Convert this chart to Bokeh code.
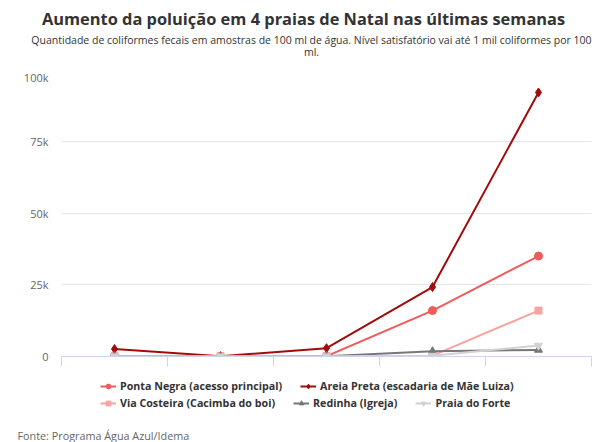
from bokeh.plotting import figure
from bokeh.models import (FixedTicker, Legend, LegendItem, Range1d, Label)
from bokeh.layouts import column
from bokeh.embed import file_html
from bokeh.resources import INLINE

# ---- data ----
weeks = [0, 1, 2, 3, 4]
series_names = [
    "Ponta Negra (acesso principal)",
    "Areia Preta (escadaria de Mãe Luiza)",
    "Via Costeira (Cacimba do boi)",
    "Redinha (Igreja)",
    "Praia do Forte",
]
ponta_negra = [200, 100, 100, 16000, 35000]
areia_preta = [2600, 100, 2900, 24200, 92000]
via_costeira = [100, 100, 100, 300, 16000]
redinha = [100, 100, 100, 1800, 2300]
praia_forte = [100, 100, 100, 300, 3800]
y_ticks = [0, 25000, 50000, 75000, 100000]
y_tick_labels = ["0", "25k", "50k", "75k", "100k"]
x_bounds = [-0.5, 0.5, 1.5, 2.5, 3.5, 4.5]

title_text = "Aumento da poluição em 4 praias de Natal nas últimas semanas"
subtitle_lines = ["Quantidade de coliformes fecais em amostras de 100 ml de água. Nível satisfatório vai até 1 mil coliformes por 100",
                  "ml."]
source_text = "Fonte: Programa Água Azul/Idema"

colors = ["#f05b5b", "#a30a0a", "#f7a3a3", "#777777", "#d2d2d2"]
markers = ["circle", "diamond", "square", "triangle", "inverted_triangle"]
sizes = [8, 9, 7, 8, 8]
values = [ponta_negra, areia_preta, via_costeira, redinha, praia_forte]

FONT = "Open Sans"
W = 606

def blank_fig(h):
    f = figure(width=W, height=h, output_backend="svg", toolbar_location=None,
               title=None, x_range=Range1d(0, 1), y_range=Range1d(0, 1),
               min_border=0, min_border_left=0, min_border_right=0,
               min_border_top=0, min_border_bottom=0,
               x_axis_type=None, y_axis_type=None)
    f.outline_line_color = None
    f.grid.visible = False
    return f

# ---- header ----
top = blank_fig(69)
top.add_layout(Label(x=303, y=51, x_units="screen", y_units="screen", text=title_text,
                     text_font=FONT, text_font_size="16.4px", text_font_style="bold",
                     text_color="#333333", text_align="center", text_baseline="middle"))
for txt, yy in zip(subtitle_lines, [30, 18]):
    top.add_layout(Label(x=311, y=yy, x_units="screen", y_units="screen", text=txt,
                         text_font=FONT, text_font_size="10.5px", text_color="#333333",
                         text_align="center", text_baseline="middle"))

# ---- chart ----
p = figure(width=W, height=299, output_backend="svg", toolbar_location=None, title=None,
           x_range=Range1d(x_bounds[0], x_bounds[-1]),
           y_range=Range1d(y_ticks[0], y_ticks[-1]),
           min_border_left=61, min_border_right=15, min_border_top=0, min_border_bottom=12)
p.outline_line_color = None

p.xaxis.ticker = FixedTicker(ticks=x_bounds)
p.xaxis.major_label_overrides = {t: "" for t in x_bounds}
p.xaxis.major_label_standoff = 0
p.xaxis.axis_line_color = "#ccd6eb"
p.xaxis.major_tick_line_color = "#ccd6eb"
p.xaxis.major_tick_in = 0
p.xaxis.major_tick_out = 10
p.xaxis.minor_tick_line_color = None
p.xgrid.grid_line_color = None

p.yaxis.ticker = FixedTicker(ticks=y_ticks)
p.yaxis.major_label_overrides = {t: l for t, l in zip(y_ticks, y_tick_labels)}
p.yaxis.axis_line_color = None
p.yaxis.major_tick_line_color = None
p.yaxis.major_tick_out = 0
p.yaxis.major_tick_in = 0
p.yaxis.minor_tick_line_color = None
p.yaxis.major_label_text_font = FONT
p.yaxis.major_label_text_font_size = "11px"
p.yaxis.major_label_text_color = "#666666"
p.yaxis.major_label_standoff = 13
p.ygrid.grid_line_color = "#e6e6e6"
p.ygrid.ticker = FixedTicker(ticks=y_ticks[1:])

for vals, c, m, s in zip(values, colors, markers, sizes):
    p.line(weeks, vals, line_color=c, line_width=2)
    p.scatter(weeks, vals, marker=m, size=s, fill_color=c, line_color=c)

# ---- legend + source ----
bot = blank_fig(74)
items = []
nan = float("nan")
for name, c, m, s in zip(series_names, colors, markers, sizes):
    ln = bot.line([nan], [nan], line_color=c, line_width=2)
    sc = bot.scatter([nan], [nan], marker=m, size=s, fill_color=c, line_color=c)
    items.append(LegendItem(label=name, renderers=[ln, sc]))

def mk_legend(its, loc):
    return Legend(items=its, orientation="horizontal", location=loc,
                  label_text_font=FONT, label_text_font_size="10.7px",
                  label_text_font_style="bold", label_text_color="#333333",
                  border_line_alpha=0, background_fill_alpha=0,
                  glyph_width=16, glyph_height=12, label_standoff=4, spacing=18,
                  padding=0, margin=0, label_height=14)

bot.add_layout(mk_legend(items[:2], (100, 49)))
bot.add_layout(mk_legend(items[2:], (100, 32)))
bot.add_layout(Label(x=17, y=7, x_units="screen", y_units="screen", text=source_text,
                     text_font=FONT, text_font_size="10.8px", text_color="#666666",
                     text_align="left", text_baseline="middle"))

layout = column(column(top), column(p), column(bot), spacing=0)
open("out.html", "w").write(file_html(layout, INLINE))
